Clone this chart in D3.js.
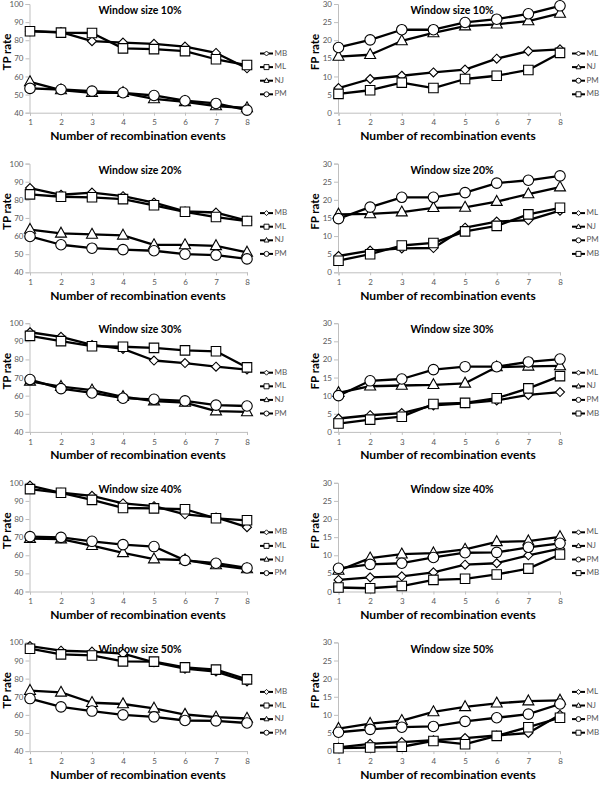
<!DOCTYPE html>
<html>
<head>
<meta charset="utf-8">
<script src="https://cdn.jsdelivr.net/npm/d3@7"></script>
<style>
  html, body { margin: 0; padding: 0; background: #fff; }
  svg { display: block; font-family: Lato, "Open Sans", sans-serif; }
</style>
</head>
<body>
<svg id="chart" width="600" height="785"></svg>
<script>
// ---------- data ----------
const events = [1, 2, 3, 4, 5, 6, 7, 8];
const windowSizes = ["10%", "20%", "30%", "40%", "50%"];
const tpTicks = [40, 50, 60, 70, 80, 90, 100];
const fpTicks = [0, 5, 10, 15, 20, 25, 30];

// TP panels legend order: MB (diamond), ML (square), NJ (triangle), PM (circle)
const tpNames = ["MB", "ML", "NJ", "PM"];
const tpShapes = ["diamond", "square", "triangle", "circle"];
// FP panels legend order: ML (diamond), NJ (triangle), PM (circle), MB (square)
const fpNames = ["ML", "NJ", "PM", "MB"];
const fpShapes = ["diamond", "triangle", "circle", "square"];

// TP rate, one row per window size (10%..50%)
const tpMB = [
  [85, 84.5, 79.5, 78.7, 78, 76.5, 73, 64.5],
  [86.5, 82.8, 84, 82, 78.5, 73.6, 73, 68.5],
  [95, 92.5, 88, 85.8, 79.4, 78, 76, 74.4],
  [98.5, 94.5, 92.8, 88.6, 87.1, 82.6, 80.9, 75.5],
  [98, 95.4, 94.9, 93.8, 89, 85.5, 83.9, 78.5]
];
const tpML = [
  [85, 84.2, 84, 75.5, 75.1, 74, 69.5, 66.3],
  [83, 81.7, 81.4, 80.4, 77, 73.4, 70.5, 68.3],
  [93, 90.1, 87.3, 87, 86.4, 85, 84.5, 75.6],
  [96.5, 94.5, 90.6, 86.1, 85.9, 85.4, 80.4, 79.3],
  [96.5, 93.4, 92.8, 89.5, 89.4, 86.2, 85, 79.6]
];
const tpNJ = [
  [57, 52.5, 51, 51, 47.6, 46, 43.7, 42.6],
  [63.6, 61.5, 60.9, 60.4, 55.1, 55.1, 54.6, 51],
  [67.9, 65, 63, 59.4, 57, 56.2, 51.5, 51],
  [69.2, 68.9, 65.3, 61.3, 57.9, 57.4, 54.6, 52.4],
  [73.4, 72.4, 66.7, 66, 63.6, 60.2, 58.7, 58]
];
const tpPM = [
  [53.4, 52.8, 51.9, 51, 49.5, 46.6, 45.1, 41.4],
  [59.8, 55.2, 53.3, 52.5, 51.9, 50, 49.5, 47.4],
  [68.9, 63.9, 61.5, 58.6, 58, 57.1, 54.8, 54.3],
  [70.3, 69.9, 67.7, 65.9, 64.8, 57.2, 55.6, 53],
  [69, 64.4, 62.1, 60, 58.9, 56.9, 56.7, 55.5]
];

// FP rate, one row per window size (10%..50%)
const fpML = [
  [6.8, 9.3, 10.2, 11.1, 11.9, 14.9, 17, 17.5],
  [4.5, 6, 6.6, 6.7, 12.3, 14, 14.4, 17],
  [3.7, 4.6, 5.2, 7.3, 7.9, 8.7, 10.2, 11],
  [3.2, 3.9, 4.2, 5.3, 7.4, 7.8, 10, 11.8],
  [1, 2, 2.5, 3, 3.6, 4.3, 5, 10]
];
const fpNJ = [
  [15.5, 16, 19.8, 22, 23.9, 24.4, 25.3, 27.4],
  [16, 16.1, 16.6, 17.8, 17.9, 19.5, 21.6, 23.5],
  [10.8, 12.6, 12.8, 13, 13.4, 17.9, 18.1, 18.2],
  [5.8, 9.2, 10.3, 10.6, 11.6, 13.7, 13.9, 15.1],
  [6.2, 7.6, 8.4, 10.8, 12.2, 13.2, 13.8, 14]
];
const fpPM = [
  [18, 20.1, 22.9, 22.9, 24.9, 25.8, 27.3, 29.5],
  [14.8, 18, 20.7, 20.7, 22, 24.6, 25.4, 26.6],
  [10, 14.1, 14.6, 17.2, 18, 18, 19.3, 20.1],
  [6.4, 7.5, 7.8, 9.4, 10.7, 10.8, 12.2, 13.3],
  [5.2, 6, 6.6, 6.8, 8.2, 9.2, 10.2, 13]
];
const fpMB = [
  [5.2, 6.2, 8.3, 6.8, 9.3, 10.2, 11.8, 16.5],
  [3.2, 5, 7.4, 8.1, 11.3, 12.8, 16, 17.8],
  [2.3, 3.4, 4.2, 7.7, 8, 9.3, 12, 15.4],
  [1.1, 0.9, 1.5, 3.2, 3.5, 4.7, 6.3, 10.2],
  [0.8, 1, 1.2, 2.8, 1.9, 4.2, 6.6, 9.2]
];

// ---------- drawing ----------
const svg = d3.select("#chart");

function shapePath(shape, s) {
  const h = s / 2;
  switch (shape) {
    case "diamond": return `M0,${-h}L${h},0L0,${h}L${-h},0Z`;
    case "square": return `M${-h},${-h}H${h}V${h}H${-h}Z`;
    case "triangle": {
      const th = s * 0.9;
      return `M0,${-th * 0.62}L${h},${th * 0.38}L${-h},${th * 0.38}Z`;
    }
    default: return d3.symbol(d3.symbolCircle, Math.PI * h * h)();
  }
}
const markerSize = { diamond: 9, square: 9.5, triangle: 11, circle: 10.5 };

const layoutCols = [
  { x0: 30, x1: 247, yTitleX: 8, legendX: 260, titleX: 140, xTitleX: 138 },
  { x0: 338.5, x1: 560, yTitleX: 316, legendX: 572, titleX: 452, xTitleX: 448 }
];

function panel(col, row, cfg) {
  const L = layoutCols[col];
  const top = 4 + row * 159.6;
  const bottom = top + 108.7;
  const g = svg.append("g");

  const x = d3.scaleLinear().domain([1, 8]).range([L.x0, L.x1]);
  const y = d3.scaleLinear().domain(cfg.domain).range([bottom, top]);

  const ya = g.append("g").attr("transform", `translate(${L.x0 - 0.5},0)`)
    .call(d3.axisLeft(y).tickValues(cfg.ticks).tickSize(4).tickPadding(2).tickFormat(d3.format("d")));
  const xa = g.append("g").attr("transform", `translate(0,${bottom})`)
    .call(d3.axisBottom(x).tickValues(events).tickSize(3).tickPadding(4).tickFormat(d3.format("d")));
  [ya, xa].forEach(a => {
    a.selectAll("path.domain").attr("stroke", "#bfbfbf").attr("stroke-width", 1);
    a.selectAll(".tick line").attr("stroke", "#bfbfbf");
    a.selectAll(".tick text").attr("fill", "#595959").style("font-size", "8px")
      .style("font-family", "Lato, 'Open Sans', sans-serif");
  });

  g.append("text").attr("x", L.titleX).attr("y", top + 7.5).attr("text-anchor", "middle")
    .attr("dominant-baseline", "middle").style("font-size", "10.5px").style("font-weight", "bold")
    .text("Window size " + cfg.window);
  g.append("text").attr("x", L.xTitleX).attr("y", bottom + 24.5).attr("text-anchor", "middle")
    .attr("dominant-baseline", "middle").style("font-size", "12px").style("font-weight", "bold")
    .text("Number of recombination events");
  g.append("text").attr("transform", `translate(${L.yTitleX},${top + 48}) rotate(-90)`)
    .attr("text-anchor", "middle").attr("dominant-baseline", "middle")
    .style("font-size", "11.5px").style("font-weight", "bold").text(cfg.yTitle);

  const line = d3.line().x((d, i) => x(events[i])).y(d => y(d));
  cfg.series.forEach(s => {
    g.append("path").datum(s.values).attr("d", line)
      .attr("fill", "none").attr("stroke", "#000").attr("stroke-width", 2.3)
      .attr("stroke-linejoin", "round");
  });
  cfg.series.forEach(s => {
    g.selectAll(null).data(s.values).enter().append("path")
      .attr("transform", (d, i) => `translate(${x(events[i])},${y(d)})`)
      .attr("d", shapePath(s.shape, markerSize[s.shape]))
      .attr("fill", "#fff").attr("stroke", "#000").attr("stroke-width", 1.1);
  });

  cfg.series.forEach((s, i) => {
    const ly = top + 49.5 + i * 13.6;
    g.append("line").attr("x1", L.legendX).attr("x2", L.legendX + 13)
      .attr("y1", ly).attr("y2", ly).attr("stroke", "#000").attr("stroke-width", 2);
    g.append("path").attr("transform", `translate(${L.legendX + 6.5},${ly})`)
      .attr("d", shapePath(s.shape, 5)).attr("fill", "#fff").attr("stroke", "#000").attr("stroke-width", 0.9);
    g.append("text").attr("x", L.legendX + 14.5).attr("y", ly).attr("dominant-baseline", "middle")
      .attr("fill", "#595959").style("font-size", "8px").text(s.name);
  });
}

const tpData = [tpMB, tpML, tpNJ, tpPM];
const fpData = [fpML, fpNJ, fpPM, fpMB];

windowSizes.forEach((w, r) => {
  panel(0, r, {
    window: w, domain: [40, 100], ticks: tpTicks, yTitle: "TP rate",
    series: tpNames.map((n, k) => ({ name: n, shape: tpShapes[k], values: tpData[k][r] }))
  });
  panel(1, r, {
    window: w, domain: [0, 30], ticks: fpTicks, yTitle: "FP rate",
    series: fpNames.map((n, k) => ({ name: n, shape: fpShapes[k], values: fpData[k][r] }))
  });
});
</script>
</body>
</html>
